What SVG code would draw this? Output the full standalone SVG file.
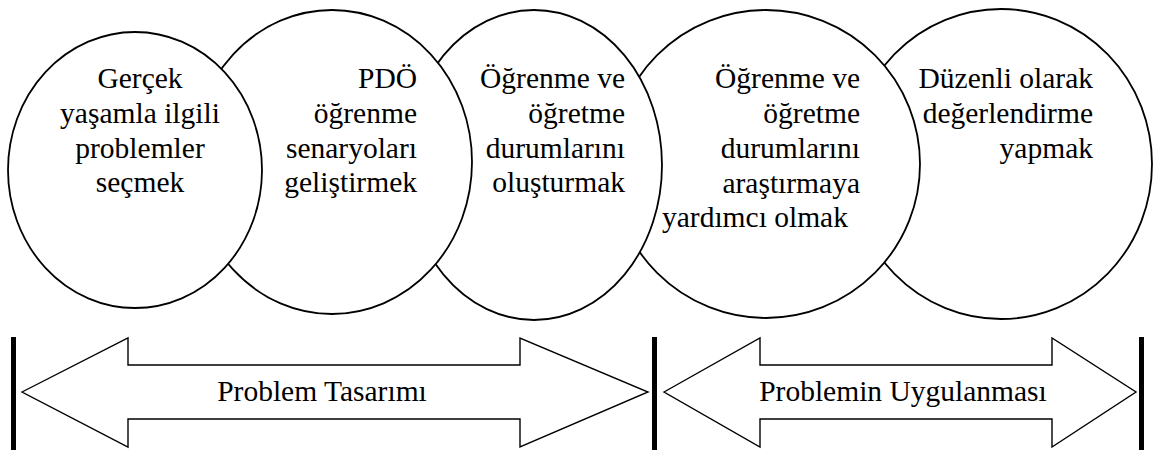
<svg xmlns="http://www.w3.org/2000/svg" width="1158" height="450" viewBox="0 0 1158 450">
<style>
.c{fill:#fff;stroke:#000;stroke-width:1.8}
.t{font-family:"Liberation Serif","Times New Roman",serif;font-size:29.5px;fill:#000}
.m{text-anchor:middle}
.e{text-anchor:end}
.a{fill:#fff;stroke:#000;stroke-width:1.4;stroke-linejoin:miter}
.b{fill:#000}
</style>
<rect width="1158" height="450" fill="#fff"/>
<g id="node5"><ellipse class="c" cx="1001" cy="164" rx="151" ry="155"/>
<text class="t e"><tspan x="1093" y="88">Düzenli olarak</tspan><tspan x="1093" y="123">değerlendirme</tspan><tspan x="1093" y="158">yapmak</tspan></text></g>
<g id="node4"><ellipse class="c" cx="766" cy="164" rx="154" ry="154"/>
<text class="t e"><tspan x="860" y="88">Öğrenme ve</tspan><tspan x="860" y="123">öğretme</tspan><tspan x="860" y="158">durumlarını</tspan><tspan x="860" y="193">araştırmaya</tspan></text>
<text class="t" x="662" y="227">yardımcı olmak</text></g>
<g id="node3"><ellipse class="c" cx="534" cy="165" rx="128" ry="155"/>
<text class="t e"><tspan x="625" y="88">Öğrenme ve</tspan><tspan x="625" y="123">öğretme</tspan><tspan x="625" y="158">durumlarını</tspan><tspan x="625" y="192">oluşturmak</tspan></text></g>
<g id="node2"><ellipse class="c" cx="332" cy="162" rx="140" ry="152"/>
<text class="t e"><tspan x="417" y="88">PDÖ</tspan><tspan x="417" y="123">öğrenme</tspan><tspan x="417" y="158">senaryoları</tspan><tspan x="417" y="192">geliştirmek</tspan></text></g>
<g id="node1"><ellipse class="c" cx="135" cy="170" rx="127" ry="138"/>
<text class="t m"><tspan x="140" y="88">Gerçek</tspan><tspan x="140" y="123">yaşamla ilgili</tspan><tspan x="140" y="158">problemler</tspan><tspan x="140" y="192">seçmek</tspan></text></g>
<g id="connectors">
<rect class="b" x="11" y="337" width="5" height="113"/>
<rect class="b" x="652" y="337" width="5" height="113"/>
<rect class="b" x="1139" y="337" width="5" height="113"/>
<polygon class="a" points="22,392 128,338 128,365 520,365 520,338 648,392 520,447 520,419 128,419 128,447"/>
<polygon class="a" points="664,392 760,338 760,365 1052,365 1052,338 1136,392 1052,447 1052,419 760,419 760,447"/>
</g>
<g id="labels">
<text class="t m" x="322" y="401">Problem Tasarımı</text>
<text class="t m" x="903" y="401">Problemin Uygulanması</text>
</g>
</svg>
